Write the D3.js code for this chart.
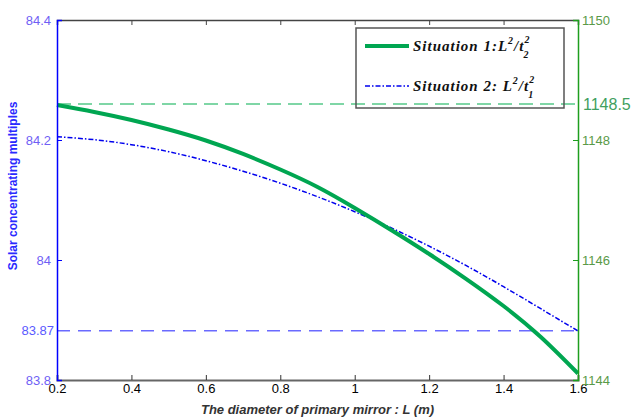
<!DOCTYPE html>
<html>
<head>
<meta charset="utf-8">
<script src="https://cdn.jsdelivr.net/npm/d3@7"></script>
<style>
body { margin: 0; background: #fff; }
svg { display: block; }
</style>
</head>
<body>
<svg width="634" height="419"></svg>
<script>
// data
var diameters = [0.2, 0.3, 0.4, 0.5, 0.6, 0.7, 0.8, 0.9, 1.0, 1.1, 1.2, 1.3, 1.4, 1.5, 1.6];
// situation 1 (right axis)
var situation1 = [1148.583, 1148.467, 1148.333, 1148.175, 1147.992, 1147.767, 1147.508, 1147.217, 1146.867, 1146.492, 1146.1, 1145.683, 1145.233, 1144.717, 1144.108];
// situation 2 (left axis)
var situation2 = [84.2055, 84.2005, 84.1922, 84.1805, 84.1655, 84.148, 84.128, 84.1055, 84.0805, 84.053, 84.023, 83.9905, 83.9555, 83.9188, 83.8817];

var xTicks = [0.2, 0.4, 0.6, 0.8, 1, 1.2, 1.4, 1.6];
var leftTicks = [83.8, 84, 84.2, 84.4];
var rightTicks = [1144, 1146, 1148, 1150];
var leftRef = 83.882, leftRefLabel = "83.87";
var rightRef = 1148.6, rightRefLabel = "1148.5";

var svg = d3.select("svg");
var pLeft = 57, pRight = 578, pTop = 20, pBottom = 380;

var x = d3.scaleLinear().domain([0.2, 1.6]).range([pLeft, pRight]);
var yL = d3.scaleLinear().domain([83.8, 84.4]).range([pBottom, pTop]);
var yR = d3.scaleLinear().domain([1144, 1150]).range([pBottom, pTop]);

// reference lines
svg.append("line")
    .attr("x1", pLeft).attr("x2", pRight)
    .attr("y1", yR(rightRef)).attr("y2", yR(rightRef))
    .attr("stroke", "#7fd6a6").attr("stroke-width", 2)
    .attr("stroke-dasharray", "14,7");
svg.append("line")
    .attr("x1", pLeft).attr("x2", pRight)
    .attr("y1", yL(leftRef)).attr("y2", yL(leftRef))
    .attr("stroke", "#6a6aff").attr("stroke-width", 1.5)
    .attr("stroke-dasharray", "13,8");

// curves
var line1 = d3.line()
    .x(function(d, i) { return x(diameters[i]); })
    .y(function(d) { return yR(d); })
    .curve(d3.curveNatural);
var line2 = d3.line()
    .x(function(d, i) { return x(diameters[i]); })
    .y(function(d) { return yL(d); })
    .curve(d3.curveNatural);

svg.append("path")
    .datum(situation2)
    .attr("d", line2)
    .attr("fill", "none")
    .attr("stroke", "#0000ee")
    .attr("stroke-width", 1.5)
    .attr("stroke-dasharray", "5,2,1.5,2");

svg.append("path")
    .datum(situation1)
    .attr("d", line1)
    .attr("fill", "none")
    .attr("stroke", "#00a651")
    .attr("stroke-width", 4);

// top border with ticks
svg.append("g")
    .attr("transform", "translate(0," + pTop + ")")
    .call(d3.axisTop(x).tickValues(xTicks).tickSize(-5).tickFormat(""))
    .call(function(g) {
      g.select(".domain").attr("stroke", "#444").attr("stroke-width", 1.5);
      g.selectAll(".tick line").attr("stroke", "#444");
    });

// bottom axis
svg.append("g")
    .attr("transform", "translate(0," + pBottom + ")")
    .call(d3.axisBottom(x).tickValues(xTicks).tickSize(-5).tickPadding(4).tickFormat(d3.format("")))
    .call(function(g) {
      g.select(".domain").attr("stroke", "#666").attr("stroke-width", 2);
      g.selectAll(".tick line").attr("stroke", "#333");
      g.selectAll(".tick text").attr("fill", "#000").style("font", "13px Arial, 'Liberation Sans', sans-serif");
    });

// left axis
svg.append("g")
    .attr("transform", "translate(" + pLeft + ",0)")
    .call(d3.axisLeft(yL).tickValues(leftTicks).tickSize(-5).tickPadding(6).tickFormat(d3.format("")))
    .call(function(g) {
      g.select(".domain").attr("stroke", "#0000ff").attr("stroke-width", 1.5);
      g.selectAll(".tick line").attr("stroke", "#0000ff");
      g.selectAll(".tick text").attr("fill", "#6f5ff5").style("font", "13px Arial, 'Liberation Sans', sans-serif");
    });

svg.append("text")
    .attr("x", pLeft - 3).attr("y", yL(leftRef))
    .attr("dy", "0.35em")
    .attr("text-anchor", "end")
    .attr("fill", "#5a5aff")
    .style("font", "13px Arial, 'Liberation Sans', sans-serif")
    .text(leftRefLabel);

// right axis
svg.append("g")
    .attr("transform", "translate(" + pRight + ",0)")
    .call(d3.axisRight(yR).tickValues(rightTicks).tickSize(-5).tickPadding(4).tickFormat(d3.format("")))
    .call(function(g) {
      g.select(".domain").attr("stroke", "#1e9e1e").attr("stroke-width", 1.5);
      g.selectAll(".tick line").attr("stroke", "#1e9e1e");
      g.selectAll(".tick text").attr("fill", "#5a9a48").style("font", "13px Arial, 'Liberation Sans', sans-serif");
    });

svg.append("text")
    .attr("x", pRight + 5).attr("y", yR(rightRef))
    .attr("dy", "0.35em")
    .attr("fill", "#3fa060")
    .style("font", "16px Arial, 'Liberation Sans', sans-serif")
    .text(rightRefLabel);

// axis titles
svg.append("text")
    .attr("x", (pLeft + pRight) / 2).attr("y", 414)
    .attr("text-anchor", "middle")
    .attr("fill", "#333")
    .style("font", "italic bold 13px Arial, 'Liberation Sans', sans-serif")
    .text("The diameter of primary mirror : L (m)");

svg.append("text")
    .attr("transform", "translate(17,186) rotate(-90)")
    .attr("text-anchor", "middle")
    .attr("fill", "#2a2aff")
    .style("font", "bold 12px Arial, 'Liberation Sans', sans-serif")
    .text("Solar concentrating multiples");

// legend
var legend = svg.append("g");
legend.append("rect")
    .attr("x", 356).attr("y", 28)
    .attr("width", 208).attr("height", 80)
    .attr("fill", "none")
    .attr("stroke", "#555").attr("stroke-width", 1.5);

var legendItems = [
  { name: "Situation 1:L", sub: "2", color: "#00a651", width: 4, dash: null, y: 46 },
  { name: "Situation 2: L", sub: "1", color: "#0000ee", width: 1.5, dash: "5,2,1.5,2", y: 86 }
];

legendItems.forEach(function(d) {
  legend.append("line")
      .attr("x1", 365).attr("x2", 409)
      .attr("y1", d.y).attr("y2", d.y)
      .attr("stroke", d.color)
      .attr("stroke-width", d.width)
      .attr("stroke-dasharray", d.dash);
  var t = legend.append("text")
      .attr("x", 413).attr("y", d.y + 5)
      .attr("fill", "#111")
      .style("font", "italic bold 15px 'Liberation Serif', 'Times New Roman', serif")
      .style("letter-spacing", "1px");
  t.append("tspan").text(d.name);
  t.append("tspan").attr("dy", -7).style("font-size", "10px").text("2");
  t.append("tspan").attr("dy", 7).text("/t");
  t.append("tspan").attr("dy", -8).style("font-size", "10px").text("2");
  t.append("tspan").attr("dx", -7).attr("dy", 15).style("font-size", "10px").text(d.sub);
});
</script>
</body>
</html>
